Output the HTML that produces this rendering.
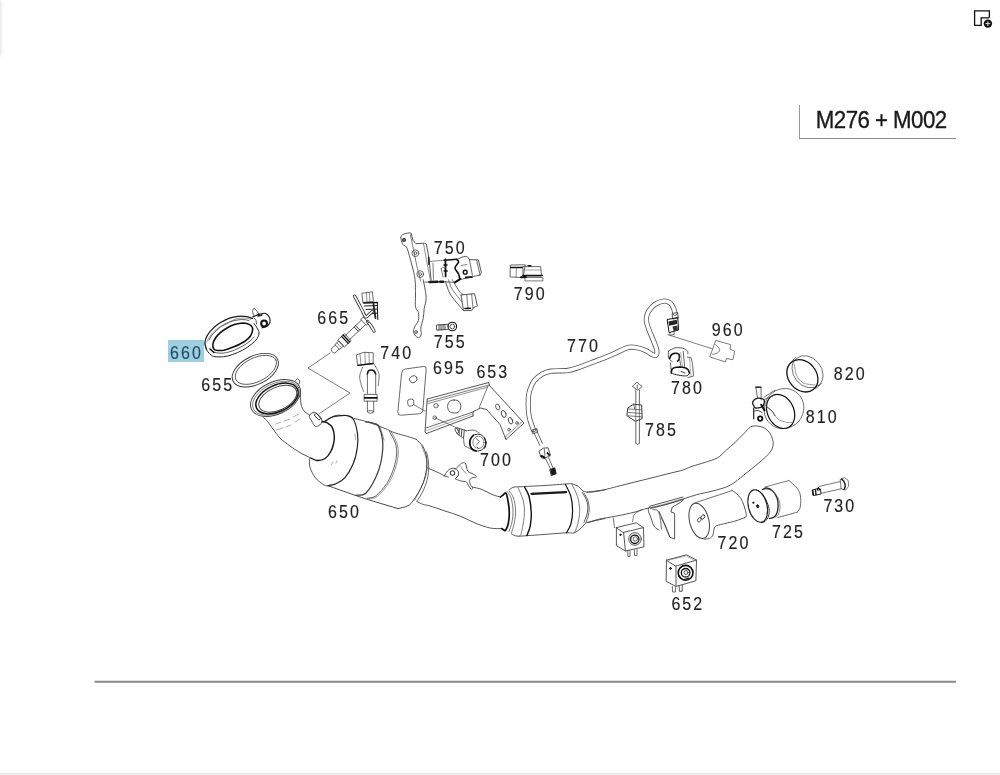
<!DOCTYPE html>
<html><head><meta charset="utf-8"><style>
html,body{margin:0;padding:0;background:#fff;width:1000px;height:775px;overflow:hidden}
#sh{position:absolute;left:-3px;top:0;width:3px;height:56px;box-shadow:1px 0 3px rgba(0,0,0,0.12)}
#bot{position:absolute;left:0;top:773px;width:1000px;height:2px;background:#ececec}
svg{position:absolute;left:0;top:0}
.t{font-family:"Liberation Sans",sans-serif;font-size:17px;letter-spacing:2px;fill:#333}
</style></head><body>
<div id="sh"></div>
<div id="bot"></div>
<svg width="1000" height="775" viewBox="0 0 1000 775">
<!-- top-right icon -->
<g fill="none" stroke="#111" stroke-width="1.3">
<path d="M974.6 10.9H989.4V16.9L988.5 17.9H981.2V25.3H974.6Z"/>
</g>
<circle cx="987.9" cy="23.6" r="4.2" fill="#111"/>
<path d="M987.9 21.2V26M985.5 23.6H990.3" stroke="#cfe8f0" stroke-width="1"/>
<!-- title box -->
<path d="M799.5 105V138.5" fill="none" stroke="#999" stroke-width="1"/><path d="M799 138.5H956" fill="none" stroke="#8a8a8a" stroke-width="1.1"/>
<defs><filter id="nf"><feOffset dx="0" dy="0"/></filter></defs><g filter="url(#nf)"><text transform="translate(815.8 127.6) scale(0.91 1)" font-family="'Liberation Sans', sans-serif" font-size="24.5" letter-spacing="-0.6" fill="#1a1a1a" stroke="#1a1a1a" stroke-width="0.35">M276 + M002</text></g>
<!-- bottom rule -->
<path d="M94.5 681.8H956" stroke="#8a8a8a" stroke-width="2"/>

<!-- highlight 660 -->
<rect x="168" y="340" width="36" height="22" fill="#9dcfe1"/>

<g id="labels" style="font-family:&quot;Liberation Sans&quot;,sans-serif" font-size="17.8" letter-spacing="2.3" fill="#222" stroke="#222" stroke-width="0.15" filter="url(#nf)">
<text transform="translate(170.00 358.60) scale(0.9 1)" fill="#1d4d5e" stroke="#1d4d5e">660</text>
<text transform="translate(201.20 390.50) scale(0.9 1)">655</text>
<text transform="translate(317.20 324.30) scale(0.9 1)">665</text>
<text transform="translate(380.20 358.70) scale(0.9 1)">740</text>
<text transform="translate(433.80 253.50) scale(0.9 1)">750</text>
<text transform="translate(433.80 347.70) scale(0.9 1)">755</text>
<text transform="translate(433.00 374.10) scale(0.9 1)">695</text>
<text transform="translate(476.40 377.50) scale(0.9 1)">653</text>
<text transform="translate(480.00 465.90) scale(0.9 1)">700</text>
<text transform="translate(513.80 299.70) scale(0.9 1)">790</text>
<text transform="translate(567.00 351.50) scale(0.9 1)">770</text>
<text transform="translate(328.00 518.30) scale(0.9 1)">650</text>
<text transform="translate(711.80 335.70) scale(0.9 1)">960</text>
<text transform="translate(671.00 394.10) scale(0.9 1)">780</text>
<text transform="translate(645.00 435.90) scale(0.9 1)">785</text>
<text transform="translate(833.80 379.90) scale(0.9 1)">820</text>
<text transform="translate(805.80 423.10) scale(0.9 1)">810</text>
<text transform="translate(823.40 511.90) scale(0.9 1)">730</text>
<text transform="translate(772.00 538.30) scale(0.9 1)">725</text>
<text transform="translate(717.60 549.10) scale(0.9 1)">720</text>
<text transform="translate(671.40 610.30) scale(0.9 1)">652</text>
</g>


<g id="draw" fill="none" stroke="#444" stroke-width="0.9" stroke-linejoin="round" stroke-linecap="round">
<path d="M206.3 348.8C206.1 347.8 204.8 345.2 204.9 343.0C205.0 340.8 205.8 338.2 207.1 335.8C208.4 333.4 210.6 330.8 212.8 328.6C215.0 326.4 217.3 324.6 220.1 322.8C222.9 321.1 226.5 319.2 229.5 318.1C232.5 317.0 235.2 316.6 238.1 316.3C241.0 316.1 244.4 316.2 246.8 316.6C249.2 317.0 251.6 318.2 252.6 318.5" stroke-width="1.3" stroke="#1a1a1a"/>
<path d="M254.0 323.5C254.5 324.2 256.0 326.2 256.9 327.8C257.8 329.4 259.1 331.1 259.1 332.9C259.1 334.7 258.2 336.8 256.9 338.7C255.6 340.6 253.5 342.6 251.1 344.5C248.7 346.4 245.6 348.5 242.5 350.2C239.4 351.9 235.4 353.5 232.3 354.6C229.2 355.7 226.6 356.4 223.7 356.7C220.8 357.0 217.1 356.9 215.0 356.7C212.9 356.5 212.6 356.1 211.4 355.3C210.2 354.5 208.7 352.8 207.8 351.7C207.0 350.6 206.6 349.3 206.3 348.8" stroke-width="1.0" stroke="#222"/>
<path d="M212.8 344.5C213.0 342.6 214.3 339.9 215.5 338.0C216.7 336.1 218.2 334.6 220.1 332.9C222.0 331.2 224.6 329.4 227.0 328.0C229.4 326.6 232.2 325.4 234.5 324.6C236.8 323.8 238.8 323.4 240.8 323.2C242.9 323.0 245.0 323.0 246.8 323.5C248.6 324.0 250.5 324.9 251.5 326.0C252.5 327.1 252.8 328.3 252.6 330.0C252.4 331.7 251.7 334.2 250.5 336.0C249.3 337.8 247.2 339.5 245.4 340.8C243.7 342.1 241.8 343.0 240.0 344.0C238.2 345.0 236.5 345.8 234.5 346.6C232.5 347.4 229.8 348.4 228.0 349.0C226.2 349.6 225.3 349.9 223.7 350.2C222.1 350.4 220.1 350.6 218.5 350.5C216.9 350.4 215.2 350.5 214.3 349.5C213.4 348.5 212.6 346.4 212.8 344.5Z" stroke-width="1.6" stroke="#111"/>
<path d="M209.2 340.1C209.7 339.2 210.8 336.6 212.0 335.0C213.2 333.4 215.0 332.1 216.5 330.7C218.0 329.3 219.2 327.7 221.0 326.5C222.8 325.3 225.5 324.4 227.3 323.5C229.1 322.6 230.2 321.8 232.0 321.2C233.8 320.6 236.1 320.2 238.1 319.9C240.1 319.6 242.2 319.5 244.0 319.6C245.8 319.7 248.2 320.4 249.0 320.6" stroke-width="0.8" stroke="#333"/>
<path d="M207.0 342.0C207.5 341.0 208.8 337.8 210.0 336.0C211.2 334.2 212.5 332.8 214.5 331.0C216.5 329.2 219.4 327.1 222.0 325.5C224.6 323.9 227.3 322.7 230.0 321.5C232.7 320.3 235.3 319.1 238.0 318.5C240.7 317.9 243.8 318.0 246.0 318.2C248.2 318.4 250.2 319.3 251.0 319.5" stroke-width="0.6" stroke="#555"/>
<path d="M212.8 351.7C213.7 351.9 216.2 352.8 218.0 353.0C219.8 353.2 221.9 353.3 223.7 353.1C225.5 352.9 227.2 352.5 229.0 352.0C230.8 351.5 232.7 350.9 234.5 350.2C236.3 349.4 238.2 348.4 240.0 347.5C241.8 346.6 243.7 345.6 245.4 344.5C247.1 343.4 248.6 342.2 250.0 341.0C251.4 339.8 253.3 337.8 254.0 337.2" stroke-width="0.8" stroke="#333"/>
<path d="M210.0 349.0L214.0 352.5" stroke-width="1.6" stroke="#111"/>
<path d="M252.6 317.0C253.8 316.5 257.6 314.7 259.8 314.1C262.0 313.5 264.0 312.9 265.6 313.4C267.2 313.9 268.5 315.6 269.2 317.0C269.9 318.4 270.3 320.5 269.9 322.1C269.5 323.7 268.3 325.4 267.0 326.4C265.7 327.3 262.8 327.6 262.0 327.8" stroke-width="1.1" stroke="#1a1a1a"/>
<path d="M254.0 318.0C254.3 318.4 255.6 319.5 256.0 320.5C256.4 321.5 256.4 323.4 256.5 324.0" stroke-width="0.9"/>
<circle cx="264.1" cy="323.5" r="2.9" stroke-width="2.0" stroke="#111"/>
<path d="M254.0 316.3C253.8 315.5 252.6 312.8 252.6 311.5C252.6 310.2 253.3 308.4 254.0 308.3C254.7 308.2 256.0 310.2 256.9 311.2C257.8 312.2 258.7 313.6 259.1 314.1" stroke-width="0.9"/>
<path d="M258.0 316.0 L262.0 315.0" stroke-width="1.4" stroke="#222"/>
<ellipse cx="255.3" cy="370.2" rx="24.8" ry="14.2" transform="rotate(-26.4 255.3 370.2)" stroke-width="0.9" stroke="#333"/>
<ellipse cx="255.9" cy="369.8" rx="22.3" ry="11.9" transform="rotate(-26.4 255.9 369.8)" stroke-width="0.8" stroke="#444"/>
<ellipse cx="275.5" cy="398" rx="26.6" ry="16.1" transform="rotate(-25.4 275.5 398)" stroke-width="1.0"/>
<ellipse cx="276" cy="398.2" rx="25" ry="14.6" transform="rotate(-25.4 276 398.2)" stroke-width="0.6" stroke="#444"/>
<ellipse cx="277" cy="398.5" rx="22.6" ry="13.2" transform="rotate(-25.4 277 398.5)" stroke-width="1.5" stroke="#111"/>
<ellipse cx="277.8" cy="398.7" rx="20.3" ry="11.4" transform="rotate(-25.4 277.8 398.7)" stroke-width="1.0"/>
<path d="M295.6 380.5L297.5 378.5L300 381L299 384" stroke-width="0.9"/>
<path d="M263.0 417.0C263.8 417.8 266.3 420.0 268.0 422.0C269.7 424.0 271.0 426.3 273.0 429.0C275.0 431.7 277.2 435.2 280.0 438.0C282.8 440.8 286.7 443.6 290.0 446.0C293.3 448.4 296.5 450.6 300.0 452.6C303.5 454.6 309.3 457.3 311.2 458.2"/>
<path d="M300.5 392.0C300.6 394.0 300.4 400.8 301.0 404.0C301.6 407.2 302.6 409.2 304.0 411.0C305.4 412.8 308.6 414.3 309.5 415.0"/>
<path d="M276 424L281 422M284 421L290 419M293 417L299 414M276 430L283 428M286 427L291 425M295 422L300 419" stroke-width="0.5" stroke="#666"/>
<path d="M313.3 412.4C314.2 412.2 315.2 412.5 316.1 413.0C317.1 413.5 318.1 414.5 319.0 415.5C319.9 416.5 321.3 417.7 321.7 419.0C322.1 420.3 322.0 422.0 321.4 423.2C320.8 424.4 319.3 425.5 318.2 426.0C317.1 426.5 315.9 426.6 315.0 426.0C314.1 425.4 313.2 423.7 312.5 422.5C311.8 421.3 311.1 420.1 310.5 419.0C309.9 417.9 309.1 417.0 309.1 416.2C309.1 415.4 309.8 414.7 310.5 414.1C311.2 413.5 312.4 412.6 313.3 412.4Z" stroke-width="0.9"/>
<path d="M314.6 415.7Q313.8 414.8 314.8 414.2L315.5 413.8Q316.5 413.2 317.3 414.1L320.2 417.7Q321.0 418.6 320.2 419.4L320.0 419.6Q319.2 420.4 318.4 419.5Z" stroke-width="0.9" stroke="#222"/>
<path d="M322.4 422.2 L328.0 419.5 L335.0 415.5 L340.0 415.0" stroke-width="0.8"/>
<path d="M322.5 421.5C323.3 421.8 325.9 422.0 327.5 423.0C329.1 424.0 331.1 425.2 332.2 427.4C333.3 429.6 334.1 433.2 334.3 436.0C334.5 438.8 334.1 441.3 333.5 444.0C332.9 446.7 331.9 449.6 330.5 452.0C329.1 454.4 327.4 457.1 325.2 458.5C322.9 459.9 319.3 460.6 317.0 460.5C314.7 460.4 312.2 458.6 311.2 458.2" stroke-width="1.4" stroke="#111"/>
<path d="M309.8 458.2C309.8 459.6 308.9 463.3 309.8 466.6C310.7 469.9 313.1 474.8 315.4 477.8C317.7 480.8 321.5 483.4 323.8 484.8C326.1 486.2 328.5 486.0 329.4 486.2"/>
<path d="M329.4 486.2C333.4 487.6 346.4 492.3 353.2 494.6C360.0 496.9 362.5 497.9 370.0 500.2C377.5 502.5 393.3 507.2 398.0 508.6" stroke-width="1.0"/>
<path d="M325.5 421.0C326.4 420.4 329.2 418.3 331.0 417.5C332.8 416.7 333.9 416.5 336.4 416.2C338.9 415.9 343.4 415.0 346.2 415.5C349.0 416.0 351.3 416.1 353.2 419.0C355.1 421.9 356.7 428.3 357.4 433.0C358.1 437.7 358.1 441.9 357.4 447.0C356.7 452.1 355.3 458.7 353.2 463.8C351.1 468.9 347.8 474.4 344.8 477.8C341.8 481.2 337.8 482.8 335.0 484.1C332.2 485.4 329.2 485.3 328.0 485.5" stroke-width="1.2" stroke="#222"/>
<path d="M353.2 418.3C355.5 418.9 362.1 420.2 367.2 421.8C372.3 423.4 379.3 426.2 384.0 428.1C388.7 430.0 391.2 431.6 395.2 433.0C399.2 434.4 404.3 435.4 407.8 436.5C411.3 437.6 414.8 438.8 416.2 439.3" stroke-width="0.9"/>
<path d="M365.8 421.8C367.2 422.1 371.9 422.8 374.0 423.5C376.1 424.2 377.0 423.2 378.4 426.0C379.8 428.8 382.1 434.2 382.6 440.0C383.1 445.8 382.4 454.7 381.2 461.0C380.0 467.3 378.2 472.4 375.6 477.8C373.0 483.2 369.1 490.3 365.8 493.2C362.5 496.1 357.6 494.9 356.0 495.3" stroke-width="1.3"/>
<path d="M368.5 421.8C369.8 422.2 374.1 423.1 376.0 424.0C377.9 424.9 378.7 424.3 380.0 427.0C381.3 429.7 383.3 437.8 384.0 440.0" stroke-width="0.6"/>
<path d="M389.6 431.6C390.5 433.5 394.0 439.1 395.2 442.8C396.4 446.5 396.8 449.8 396.6 454.0C396.4 458.2 395.4 463.1 393.8 468.0C392.2 472.9 389.8 478.7 386.8 483.4C383.8 488.1 378.9 493.6 375.6 496.0C372.3 498.4 368.6 497.8 367.2 498.1" stroke-width="0.8"/>
<path d="M391.2 431.8C392.1 433.7 395.6 439.3 396.8 443.0C398.0 446.7 398.4 449.8 398.2 454.0C398.0 458.2 397.0 463.1 395.4 468.0C393.8 472.9 391.4 478.9 388.4 483.6C385.4 488.3 380.4 493.9 377.2 496.4C374.0 498.9 370.4 498.2 369.0 498.6" stroke-width="0.6"/>
<path d="M416.2 439.3C417.4 440.6 421.4 443.9 423.2 447.0C424.9 450.1 426.2 454.0 426.7 458.2C427.2 462.4 426.8 467.5 426.0 472.2C425.2 476.9 423.9 481.5 421.8 486.2C419.7 490.9 415.7 496.9 413.4 500.2C411.1 503.5 410.4 504.4 407.8 505.8C405.2 507.2 399.6 508.1 398.0 508.6" stroke-width="1.0"/>
<path d="M421.8 445.6C422.6 448.2 426.0 456.1 426.7 461.0C427.4 465.9 427.1 470.3 426.0 475.0C424.9 479.7 422.3 484.8 420.4 489.0C418.5 493.2 415.7 498.3 414.8 500.2" stroke-width="0.6"/>
<path d="M426.5 452.0C426.8 453.7 428.2 458.0 428.5 462.0C428.8 466.0 428.8 471.3 428.0 476.0C427.2 480.7 425.3 485.8 423.5 490.0C421.7 494.2 418.1 499.2 417.0 501.0" stroke-width="0.8"/>
<path d="M355 434L355.5 440M331 465L333 462M336 463L337 461" stroke-width="0.6" stroke="#777"/>
<path d="M427.5 468.0C429.1 468.7 434.1 470.7 437.0 472.0C439.9 473.3 443.1 475.2 445.0 476.0C446.9 476.8 447.9 476.8 448.5 477.0" stroke-width="0.9"/>
<path d="M472.0 487.0C473.7 487.4 478.7 488.2 482.0 489.5C485.3 490.8 488.9 493.2 492.0 494.5C495.1 495.8 499.1 496.6 500.5 497.0" stroke-width="0.9"/>
<path d="M417.0 501.6C418.0 502.1 421.0 503.7 423.2 504.4C425.4 505.1 426.4 504.9 430.0 506.0C433.6 507.1 440.0 509.3 445.0 511.0C450.0 512.7 455.0 514.0 460.0 516.0C465.0 518.0 470.0 521.0 475.0 523.0C480.0 525.0 485.6 527.1 490.0 528.0C494.4 528.9 499.7 528.5 501.6 528.6" stroke-width="0.9"/>
<path d="M444.0 476.5C444.6 475.6 446.3 472.3 447.5 471.0C448.7 469.7 449.8 468.9 451.0 468.5C452.2 468.1 453.8 468.1 455.0 468.5C456.2 468.9 457.4 469.9 458.0 471.0C458.6 472.1 458.9 473.8 458.5 475.0C458.1 476.2 456.0 477.9 455.5 478.5" stroke-width="0.9"/>
<circle cx="452.5" cy="473" r="2.2" stroke-width="1.1"/>
<path d="M455.0 469.5C455.7 468.8 457.8 466.6 459.0 465.5C460.2 464.4 461.4 463.1 462.5 462.8C463.6 462.5 464.8 462.8 465.5 463.5C466.2 464.2 466.1 465.7 466.5 467.0C466.9 468.3 467.1 470.4 468.0 471.5C468.9 472.6 470.8 472.8 472.0 473.5C473.2 474.2 474.8 474.9 475.5 475.5C476.2 476.1 476.6 476.8 476.0 477.2C475.4 477.6 473.1 477.2 472.0 477.8C470.9 478.4 469.8 479.3 469.5 480.5C469.2 481.7 469.9 483.8 470.5 485.0C471.1 486.2 472.9 487.3 473.0 488.0C473.1 488.7 471.8 489.5 471.0 489.0C470.2 488.5 468.8 486.2 468.0 485.0C467.2 483.8 467.7 482.7 466.5 482.0C465.3 481.3 462.8 481.5 461.0 481.0C459.2 480.5 456.4 479.3 455.5 479.0" stroke-width="0.9"/>
<path d="M460.5 466.0C460.9 466.7 462.0 468.7 463.0 470.0C464.0 471.3 465.9 473.3 466.5 474.0" stroke-width="0.6"/>
<path d="M500.5 497.0C500.9 496.7 501.8 496.0 502.7 495.4C503.6 494.8 505.1 492.1 506.0 493.2C506.9 494.3 507.6 498.7 508.2 502.0C508.8 505.3 509.3 509.3 509.3 513.0C509.3 516.7 508.8 521.2 508.2 524.0C507.6 526.8 506.6 528.4 506.0 529.5C505.4 530.6 505.6 530.8 504.9 530.6C504.2 530.5 502.2 528.9 501.6 528.6" stroke-width="1.7" stroke="#111"/>
<path d="M507.1 491.5C507.8 492.6 510.0 494.9 511.0 498.0C512.0 501.1 512.8 506.0 513.0 510.0C513.2 514.0 512.7 518.4 512.0 522.0C511.3 525.6 509.5 529.9 509.0 531.5" stroke-width="0.7"/>
<path d="M509.0 490.8C509.8 492.0 512.4 494.8 513.5 498.0C514.6 501.2 515.3 506.0 515.5 510.0C515.7 514.0 515.2 518.2 514.5 522.0C513.8 525.8 512.0 531.0 511.5 532.8" stroke-width="0.7"/>
<path d="M509.3 489.9C510.0 489.4 511.3 487.8 513.7 487.2C516.1 486.6 518.4 486.9 523.6 486.6C528.8 486.3 537.9 485.9 545.0 485.5C552.1 485.1 562.0 484.2 566.5 483.9C571.0 483.6 570.0 483.4 572.0 483.9C574.0 484.3 576.8 485.4 578.6 486.6C580.4 487.8 581.4 490.1 583.0 491.0C584.6 491.9 586.3 492.1 588.5 492.1C590.7 492.1 593.2 491.4 596.0 491.0C598.8 490.6 603.5 490.1 605.0 489.9" stroke-width="0.9"/>
<path d="M511.5 533.9C512.4 534.3 514.2 535.8 517.0 536.1C519.8 536.4 523.3 535.9 528.0 535.6C532.7 535.3 538.6 534.9 545.0 534.4C551.4 533.9 561.6 533.1 566.5 532.8C571.4 532.5 571.8 533.5 574.2 532.8C576.6 532.1 578.8 530.1 580.8 528.4C582.8 526.7 585.0 523.4 586.3 522.4C587.6 521.4 586.9 522.7 588.5 522.4C590.1 522.1 593.2 521.1 596.0 520.5C598.8 519.9 603.5 518.8 605.0 518.5" stroke-width="0.9"/>
<path d="M518.1 487.7C519.0 490.1 522.6 497.2 523.6 502.0C524.6 506.8 524.6 511.2 524.2 516.3C523.8 521.4 522.2 529.5 521.4 532.8C520.6 536.1 519.6 535.5 519.2 536.1" stroke-width="0.7"/>
<path d="M524.7 487.2C525.4 488.8 528.0 492.2 529.1 496.5C530.2 500.8 531.1 508.1 531.3 513.0C531.5 518.0 530.9 522.4 530.2 526.2C529.5 530.0 527.5 534.0 526.9 535.6" stroke-width="1.4" stroke="#111"/>
<path d="M565.4 484.4C566.3 486.4 569.7 492.1 570.9 496.5C572.1 500.9 572.6 506.2 572.6 510.8C572.6 515.4 571.9 520.3 570.9 524.0C569.9 527.7 567.2 531.3 566.5 532.8" stroke-width="1.2" stroke="#111"/>
<path d="M572.0 484.4C572.9 486.4 576.2 492.1 577.5 496.5C578.8 500.9 579.7 506.0 579.7 510.8C579.7 515.6 578.4 521.4 577.5 525.1C576.6 528.8 574.8 531.5 574.2 532.8" stroke-width="0.7"/>
<path d="M582.1 492.3C582.8 493.4 585.0 496.6 586.0 499.0C587.0 501.4 587.8 504.1 587.9 506.8C588.0 509.5 587.4 512.4 586.8 515.0C586.1 517.6 584.5 521.1 584.0 522.3" stroke-width="0.9"/>
<path d="M584.0 493.2C584.6 494.3 586.9 497.4 587.8 500.0C588.7 502.6 589.1 506.0 589.2 508.7C589.3 511.4 588.7 513.7 588.2 516.0C587.7 518.3 586.4 521.2 586.0 522.3" stroke-width="0.8"/>
<path d="M531.5 493.8L566 492.2" stroke-width="2.2" stroke="#1a1a1a"/>
<path d="M587.0 492.2C589.0 492.0 593.0 492.2 599.0 491.0C605.0 489.8 615.0 487.0 623.0 485.0C631.0 483.0 639.0 481.0 647.0 479.0C655.0 477.0 665.0 474.5 671.0 473.0C677.0 471.5 679.7 471.1 683.0 470.0C686.3 468.9 687.3 468.0 691.0 466.7C694.7 465.4 700.9 463.8 705.3 462.3C709.7 460.8 713.9 459.9 717.4 457.9C720.9 455.9 723.3 452.8 726.2 450.2C729.1 447.6 732.1 445.2 735.0 442.5C737.9 439.8 741.2 436.3 743.8 433.7C746.4 431.1 748.2 428.4 750.4 427.1C752.6 425.8 754.6 425.8 757.0 426.0C759.4 426.2 762.5 426.9 764.7 428.2C766.9 429.5 768.8 431.5 770.2 433.7C771.6 435.9 772.6 439.0 773.0 441.4C773.4 443.8 773.2 445.8 772.4 448.0C771.6 450.2 770.6 451.9 768.0 454.6C765.4 457.4 760.7 461.4 757.0 464.5C753.3 467.6 749.7 470.4 746.0 473.3C742.3 476.2 738.3 479.8 735.0 482.1C731.7 484.4 729.9 485.5 726.2 487.0C722.5 488.5 718.0 489.6 713.0 490.9C708.0 492.2 701.5 493.4 696.5 494.8C691.5 496.2 688.2 497.3 683.0 499.0C677.8 500.7 671.0 503.2 665.0 504.8C659.0 506.4 652.0 507.2 647.0 508.4C642.0 509.6 640.2 510.7 635.0 512.0C629.8 513.3 621.8 515.0 615.8 516.2C609.8 517.4 603.8 518.1 599.0 519.2C594.2 520.3 589.0 522.2 587.0 522.8" stroke-width="0.9"/>
<path d="M613.4 518.0C613.5 518.7 613.6 520.4 613.8 522.0C614.0 523.6 614.5 526.7 614.6 527.6" stroke-width="0.8"/>
<path d="M632.6 521.6C632.8 520.5 633.1 516.7 634.0 515.0C634.9 513.3 636.6 512.4 638.0 511.5C639.4 510.6 641.5 509.9 642.2 509.6" stroke-width="0.7"/>
<path d="M616.4 527.6 L636.2 522.8 L643.4 527.6 L623.6 532.4Z" stroke-width="0.9"/>
<path d="M616.4 527.6 L616.4 545.6 L625.4 551.0 L644.0 546.8 L643.4 527.6" stroke-width="0.9"/>
<path d="M623.6 532.4L625.4 551" stroke-width="0.9"/>
<circle cx="635" cy="539" r="6.3" stroke-width="0.9"/>
<circle cx="634.8" cy="539.3" r="4.2" stroke-width="1.3" stroke="#111"/>
<circle cx="635.3" cy="539" r="2.2" stroke-width="0.8"/>
<path d="M627.8 551V556.4H630V551M634.5 550V555.5H637V549.5" stroke-width="0.8"/>
<circle cx="620.4" cy="534.8" r="0.7" stroke-width="1" stroke="#222" fill="#222"/>
<path d="M650.6 506.0 L683.0 497.0" stroke-width="0.9"/>
<path d="M650.6 508.6 L683.5 499.6" stroke-width="0.8"/>
<path d="M652.0 507.5 L682.0 499.0" stroke-width="0.5" stroke="#666"/>
<path d="M650.6 506.0C650.2 506.6 648.1 507.6 648.2 509.6C648.3 511.6 650.0 515.2 651.0 518.0C652.0 520.8 652.9 524.4 654.2 526.4C655.5 528.4 658.2 529.4 659.0 530.0" stroke-width="0.9"/>
<path d="M653.0 509.6C653.8 509.8 656.6 509.4 657.8 510.8C659.0 512.2 659.6 515.0 660.2 518.0C660.8 521.0 661.2 527.0 661.4 528.8" stroke-width="0.8"/>
<path d="M659.0 511.4 L666.0 527.0 L669.8 537.2 L674.6 539.0 L674.6 513.2 L671.0 512.0 L672.2 507.2 L680.6 502.4 L683.5 499.6" stroke-width="0.9"/>
<path d="M661.4 518.0 L669.8 536.6" stroke-width="0.7"/>
<ellipse cx="699.2" cy="520.8" rx="9.6" ry="18" transform="rotate(-14 699.2 520.8)" stroke-width="1.0"/>
<path d="M694.5 503.0C697.4 502.0 706.0 499.2 712.0 497.2C718.0 495.2 727.1 492.3 730.4 491.2C733.7 490.1 731.7 490.5 732.0 490.4" stroke-width="0.8"/>
<path d="M732.0 490.4C732.7 490.9 734.5 491.9 736.0 493.2C737.5 494.5 739.5 496.3 740.8 498.4C742.1 500.5 743.1 502.8 744.0 505.6C744.9 508.4 746.3 513.2 746.4 515.2C746.5 517.2 745.1 517.2 744.8 517.6" stroke-width="0.9"/>
<path d="M744.8 517.6C743.3 518.1 739.3 519.8 736.0 520.8C732.7 521.8 728.0 522.8 724.8 523.6C721.6 524.4 718.5 524.9 716.8 525.6C715.1 526.3 715.1 526.4 714.4 528.0C713.7 529.6 713.6 533.5 712.8 535.2C712.0 536.9 711.1 537.7 709.6 538.4C708.1 539.1 704.9 539.1 704.0 539.2" stroke-width="0.9"/>
<ellipse cx="699.4" cy="519.8" rx="2.4" ry="1.7" transform="rotate(-55 699.4 519.8)" stroke-width="0.9"/>
<ellipse cx="702.8" cy="517" rx="2.4" ry="1.7" transform="rotate(-55 702.8 517)" stroke-width="0.9"/>
<path d="M756.0 489.8C756.9 490.3 759.8 491.3 761.5 493.0C763.2 494.7 764.8 497.4 766.0 500.0C767.2 502.6 768.6 505.8 769.0 508.5C769.4 511.2 769.2 513.8 768.5 516.0C767.8 518.2 766.2 520.4 765.0 521.5C763.8 522.6 762.1 522.3 761.5 522.5" stroke-width="1.0" stroke="#333"/>
<ellipse cx="757.7" cy="506" rx="9.3" ry="16.6" transform="rotate(-14 757.7 506)" stroke-width="1.1" stroke="#222"/>
<circle cx="753.3" cy="502.7" r="0.7" stroke-width="0.8" stroke="#222" fill="#222"/>
<ellipse cx="757.6" cy="506.3" rx="1.1" ry="1.6" transform="rotate(-20 757.6 506.3)" stroke-width="0.8" stroke="#222" fill="#222"/>
<path d="M762.4 489.7C763.1 489.4 764.9 487.8 766.6 488.0C768.4 488.2 771.1 489.4 772.9 491.1C774.6 492.8 776.2 495.5 777.1 498.1C778.0 500.7 778.2 503.8 778.1 506.5C778.0 509.2 777.3 512.3 776.4 514.2C775.5 516.1 774.1 517.0 772.9 517.7C771.7 518.4 770.0 518.3 769.4 518.4" stroke-width="1.3" stroke="#222"/>
<path d="M764.5 489.2C765.3 489.2 767.8 488.8 769.5 489.5C771.2 490.2 773.4 491.8 775.0 493.5C776.6 495.2 778.2 497.8 779.0 500.0C779.8 502.2 780.1 504.7 780.0 507.0C779.9 509.3 779.3 512.2 778.5 514.0C777.7 515.8 775.6 516.9 775.0 517.5" stroke-width="0.7" stroke="#555"/>
<path d="M765.2 486.9C767.2 486.4 773.0 484.8 777.0 483.7C781.0 482.6 787.0 481.1 789.0 480.6" stroke-width="0.8" stroke="#555"/>
<path d="M789.0 480.6C790.2 481.7 794.1 484.6 796.0 486.9C797.9 489.2 799.5 491.3 800.2 494.6C800.9 497.9 800.9 503.6 800.4 506.5C799.9 509.4 797.9 511.2 797.4 512.1" stroke-width="0.8"/>
<path d="M797.4 512.1C795.7 512.6 790.3 514.1 787.0 515.0C783.7 515.9 779.3 517.1 777.8 517.5" stroke-width="0.8" stroke="#444"/>
<path d="M840.5 479.5 L844.5 477.5 L848.2 480.5 L848.6 486.5 L845.5 490.0 L841.5 489.0Z" stroke-width="0.7" stroke="#444"/>
<path d="M841.5 479.0C842.0 479.5 843.6 480.8 844.2 482.0C844.8 483.2 845.3 484.8 845.3 486.0C845.3 487.2 844.2 488.9 844.0 489.5" stroke-width="1.5" stroke="#222"/>
<path d="M819.0 486.5 L840.5 481.5" stroke-width="0.8" stroke="#555"/>
<path d="M821.5 493.2 L841.5 488.7" stroke-width="0.8" stroke="#555"/>
<path d="M812.5 490.0 L818.0 488.5 L820.5 489.0 L821.0 494.0 L813.5 495.5Z" stroke-width="1.0" stroke="#222"/>
<path d="M812.8 490.5L813.5 495M815.5 489.8L816 494.8" stroke-width="1.3" stroke="#111"/>
<path d="M818.5 487.5 L820.0 490.0 L817.5 490.0Z" stroke-width="1.0" stroke="#111"/>
<path d="M666.5 560.1 L686.6 554.8 L696.5 560.1 L676.0 566.0Z" stroke-width="0.9"/>
<path d="M668.5 560.2 L686.6 555.9 L694.0 560.0" stroke-width="0.5" stroke="#666"/>
<path d="M666.5 560.1 L666.1 581.4 L676.0 586.4 L676.0 566.0" stroke-width="0.9"/>
<path d="M696.5 560.1 L695.9 580.8 L676.0 586.4" stroke-width="0.9"/>
<circle cx="685.6" cy="572.8" r="7.4" stroke-width="1.6" stroke="#111"/>
<circle cx="685.6" cy="572.8" r="4.3" stroke-width="1.3" stroke="#111"/>
<circle cx="686" cy="572.5" r="2" stroke-width="0.9"/>
<path d="M679.0 576.0C679.7 576.6 681.3 579.2 683.0 579.5C684.7 579.8 688.0 578.2 689.0 578.0" stroke-width="1.2" stroke="#111"/>
<circle cx="670.5" cy="568.4" r="0.9" stroke-width="1" stroke="#222" fill="#222"/>
<path d="M672.3 586.4 L672.6 592.0 L675.4 592.0 L675.4 587.5" stroke-width="0.8"/>
<path d="M679.1 585.8 L679.4 591.3 L682.2 591.3 L682.2 585.0" stroke-width="0.9"/>
<ellipse cx="807.6" cy="371.8" rx="17.5" ry="14" transform="rotate(50 807.6 371.8)" stroke-width="0.7"/>
<ellipse cx="802.4" cy="375.8" rx="17.5" ry="14" transform="rotate(50 802.4 375.8)" stroke-width="1.3" stroke="#111"/>
<path d="M790.5 362.5L796 357.2M815.8 388.6L821.6 383.4" stroke-width="0.7"/>
<path d="M794.3 364.3C794.7 366.1 795.0 372.1 796.5 375.2C798.0 378.3 800.0 381.2 803.1 382.9C806.2 384.5 813.2 384.7 815.2 385.1" stroke-width="0.6" stroke="#555"/>
<ellipse cx="784" cy="408.6" rx="19.5" ry="20.5" transform="rotate(40 784 408.6)" stroke-width="0.7"/>
<ellipse cx="780.6" cy="411.4" rx="13.2" ry="17.8" transform="rotate(-25 780.6 411.4)" stroke-width="1.2" stroke="#111"/>
<path d="M765.8 405.9C766.9 406.8 770.4 409.2 772.4 411.4C774.4 413.6 775.5 417.3 777.9 419.1C780.3 420.9 784.2 421.8 786.7 422.4C789.2 422.9 792.1 422.4 793.2 422.4" stroke-width="0.6" stroke="#555"/>
<path d="M757.5 397.7 L755.8 387.1 L761.0 387.1 L761.2 399.9" stroke-width="0.8"/>
<path d="M755.8 387.3 L761.0 387.3" stroke-width="1.4" stroke="#333"/>
<path d="M752.6 402.0C753.2 400.7 755.6 398.6 757.5 398.2C759.4 397.8 763.0 398.7 764.0 399.9C765.0 401.1 763.9 404.1 763.4 405.3C762.9 406.6 762.0 406.9 760.7 407.4C759.4 407.8 757.0 408.3 755.8 408.0C754.6 407.7 754.2 406.8 753.7 405.8C753.2 404.8 752.0 403.3 752.6 402.0Z" stroke-width="1.3" stroke="#1a1a1a"/>
<path d="M761.2 404.7 L764.5 410.2" stroke-width="2.0" stroke="#111"/>
<path d="M753.7 408.0 L753.7 418.8" stroke-width="1.2" stroke="#222"/>
<path d="M754.5 411.0C755.1 410.9 756.8 410.2 758.0 410.5C759.2 410.8 761.3 412.2 762.0 412.5" stroke-width="0.9" stroke="#333"/>
<circle cx="760.2" cy="418.6" r="2.2" stroke-width="1.8" stroke="#111"/>
<path d="M764.0 397.2 L775.0 390.1" stroke-width="0.8"/>
<path d="M764.5 399.5 L775.0 395.0" stroke-width="0.8"/>
<path d="M765.6 405.8 L772.0 411.0 L775.0 415.6" stroke-width="0.8"/>
<path d="M533.3 429.5C532.8 427.9 530.8 423.0 530.0 420.0C529.2 417.0 528.8 415.4 528.5 411.6C528.2 407.8 528.1 401.0 528.4 397.2C528.7 393.4 529.2 391.6 530.2 388.8C531.2 386.0 532.4 383.1 534.4 380.6C536.4 378.1 539.7 375.6 542.4 374.0C545.1 372.4 546.5 371.8 550.8 371.2C555.1 370.6 563.1 371.1 568.0 370.4C572.9 369.7 576.0 368.3 580.0 367.0C584.0 365.7 588.7 363.6 592.0 362.4C595.3 361.1 596.2 361.0 600.0 359.5C603.8 358.0 610.4 355.4 614.9 353.4C619.4 351.4 623.6 348.7 627.1 347.7C630.6 346.7 632.9 347.0 636.0 347.5C639.1 348.0 643.3 349.5 646.0 350.7C648.7 351.9 650.3 353.8 652.0 354.5C653.7 355.2 655.2 355.9 656.0 355.2C656.8 354.5 657.2 352.6 656.8 350.3C656.4 348.0 655.0 344.6 653.8 341.5C652.6 338.4 650.9 334.8 649.7 331.7C648.5 328.6 647.2 325.1 646.7 322.7C646.2 320.2 646.1 318.9 646.5 317.0C646.9 315.1 647.4 313.1 648.8 311.0C650.2 308.9 652.5 305.9 655.1 304.2C657.7 302.5 662.0 301.2 664.5 301.0C667.0 300.8 668.9 302.0 670.4 303.2C671.9 304.4 672.8 306.5 673.5 308.2C674.2 309.9 674.7 312.4 674.9 313.2" stroke-width="5.2" stroke="#5a5a5a"/>
<path d="M533.3 429.5C532.8 427.9 530.8 423.0 530.0 420.0C529.2 417.0 528.8 415.4 528.5 411.6C528.2 407.8 528.1 401.0 528.4 397.2C528.7 393.4 529.2 391.6 530.2 388.8C531.2 386.0 532.4 383.1 534.4 380.6C536.4 378.1 539.7 375.6 542.4 374.0C545.1 372.4 546.5 371.8 550.8 371.2C555.1 370.6 563.1 371.1 568.0 370.4C572.9 369.7 576.0 368.3 580.0 367.0C584.0 365.7 588.7 363.6 592.0 362.4C595.3 361.1 596.2 361.0 600.0 359.5C603.8 358.0 610.4 355.4 614.9 353.4C619.4 351.4 623.6 348.7 627.1 347.7C630.6 346.7 632.9 347.0 636.0 347.5C639.1 348.0 643.3 349.5 646.0 350.7C648.7 351.9 650.3 353.8 652.0 354.5C653.7 355.2 655.2 355.9 656.0 355.2C656.8 354.5 657.2 352.6 656.8 350.3C656.4 348.0 655.0 344.6 653.8 341.5C652.6 338.4 650.9 334.8 649.7 331.7C648.5 328.6 647.2 325.1 646.7 322.7C646.2 320.2 646.1 318.9 646.5 317.0C646.9 315.1 647.4 313.1 648.8 311.0C650.2 308.9 652.5 305.9 655.1 304.2C657.7 302.5 662.0 301.2 664.5 301.0C667.0 300.8 668.9 302.0 670.4 303.2C671.9 304.4 672.8 306.5 673.5 308.2C674.2 309.9 674.7 312.4 674.9 313.2" stroke-width="3.5" stroke="#fff"/>
<path d="M533.1 430.0 L534.1 433.0 L539.8 445.4" stroke-width="0.8"/>
<path d="M536.7 428.9 L537.2 432.0 L542.4 443.4" stroke-width="0.8"/>
<path d="M532.0 430.0 L536.8 428.7 L537.6 432.4 L533.0 433.6Z" stroke-width="0.8"/>
<path d="M539.3 450.9 L543.4 448.1 L548.1 447.8 L550.4 455.0 L548.1 456.6 L543.4 458.6 L541.4 457.6Z" stroke-width="0.9"/>
<path d="M544.2 448.8 L545.0 455.5" stroke-width="0.8"/>
<path d="M541.5 456.0 L544.5 457.5" stroke-width="2.0" stroke="#111"/>
<path d="M547.5 453.0 L549.5 455.5" stroke-width="1.8" stroke="#111"/>
<path d="M545.5 458.6 L550.6 469.0" stroke-width="0.8"/>
<path d="M548.6 457.6 L553.2 468.5" stroke-width="0.8"/>
<path d="M550.1 469.5L554.8 467.8L556.2 473.8L551.6 475.5Z" fill="#1a1a1a" stroke="#111" stroke-width="0.8"/>
<path d="M672.5 313.5 L677.5 312.5 L678.3 318.0 L673.0 319.0Z" stroke-width="0.9"/>
<path d="M667.5 319.5 L677.8 317.5 L678.5 330.0 L669.5 332.5Z" stroke-width="1.0" stroke="#111"/>
<path d="M668.5 321.5L676.8 319.8L677.2 324L669.2 325.8Z" fill="#222" stroke="none"/>
<path d="M672.5 326.5L677.5 325.5L677.8 330L673.5 331Z" fill="#333" stroke="none"/>
<path d="M669.5 332.5 L670.3 335.3 L674.5 334.2 L673.8 331.5" stroke-width="0.8"/>
<path d="M667.9 334.7 L712.0 348.7" stroke-width="0.7"/>
<path d="M716.1 340.5 L730.6 344.6 L730.0 349.2 L734.7 351.0 L732.9 359.7 L726.5 358.5 L725.4 362.0 L709.7 356.8 L712.6 349.2Z" stroke-width="0.7"/>
<path d="M715.5 344.6C716.2 345.4 719.2 347.9 719.6 349.2C720.0 350.5 719.0 351.8 717.8 352.7C716.6 353.6 713.5 354.2 712.6 354.5" stroke-width="0.7"/>
<path d="M668.7 351.0C669.7 350.5 672.6 348.4 674.9 347.9C677.2 347.4 680.5 347.7 682.6 348.2C684.7 348.7 686.4 349.9 687.3 350.8C688.2 351.8 687.7 353.4 687.8 353.9" stroke-width="0.9"/>
<path d="M668.7 351.0C668.6 351.6 668.1 353.6 668.2 354.9C668.3 356.2 668.5 357.9 669.2 359.0C669.9 360.1 671.8 361.2 672.3 361.6" stroke-width="0.9"/>
<path d="M669.7 358.5C670.0 357.9 670.5 355.8 671.3 354.9C672.1 354.0 673.2 353.6 674.4 353.4C675.6 353.2 677.6 353.4 678.5 353.9C679.4 354.4 679.4 355.6 679.5 356.5C679.6 357.4 679.3 358.7 679.0 359.5C678.7 360.3 677.8 360.8 677.5 361.1" stroke-width="1.6" stroke="#111"/>
<path d="M678.5 353.9 L681.1 366.8" stroke-width="0.8"/>
<path d="M683.2 351.3 L684.7 366.8" stroke-width="0.8"/>
<path d="M680.7 352.5 L682.6 366.5" stroke-width="0.5" stroke="#666"/>
<path d="M687.3 357.0 L690.9 357.5 L692.5 363.7 L693.5 376.1 L687.8 377.6" stroke-width="0.8"/>
<path d="M689.5 358.0 L691.0 376.0" stroke-width="0.5" stroke="#666"/>
<path d="M670.3 362.6C670.4 363.2 670.6 364.6 670.8 366.3C671.0 368.0 671.2 371.9 671.3 373.0" stroke-width="0.8"/>
<path d="M671.3 373.0C671.5 372.3 671.4 369.8 672.3 368.8C673.2 367.9 674.8 367.6 676.5 367.3C678.2 367.1 680.7 367.0 682.6 367.3C684.5 367.6 686.7 368.4 687.8 369.4C688.9 370.3 689.1 372.4 689.4 373.0" stroke-width="1.6" stroke="#111"/>
<path d="M689.4 373.0C689.1 373.4 688.9 375.0 687.8 375.5C686.7 376.0 684.8 376.0 682.6 375.8C680.5 375.6 676.8 374.8 674.9 374.3C673.0 373.8 671.9 373.2 671.3 373.0" stroke-width="1.0" stroke="#222"/>
<path d="M681.0 371.5 L685.0 373.0" stroke-width="0.9" stroke="#333"/>
<path d="M637.2 382.5 L642.1 386.6 L637.6 390.2 L632.6 386.6Z" stroke-width="0.8"/>
<path d="M637.3 385V388.5" stroke-width="0.8"/>
<path d="M635.8 390.0 L635.8 443.0" stroke-width="0.8"/>
<path d="M639.4 390.0 L639.4 443.0" stroke-width="0.8"/>
<path d="M635.8 443.0C636.1 443.2 637.0 444.5 637.6 444.5C638.2 444.5 639.1 443.2 639.4 443.0" stroke-width="0.8"/>
<path d="M628.1 407.8L633.6 404.2L641.7 405.1L642.1 418.6L635.4 421.4L627.2 415.9Z" fill="#fff" stroke="#222" stroke-width="0.9"/>
<path d="M628.6 409L641.6 409.8M628.3 412.6L641.8 413.4M628 415.8L641.9 416.8" stroke-width="0.7" stroke="#444"/>
<path d="M635.8 405.0 L635.8 420.8" stroke-width="0.7"/>
<path d="M639.4 405.0 L639.4 419.5" stroke-width="0.7"/>
<path d="M633.6 404.2 L634.6 408.6" stroke-width="0.8"/>
<path d="M400.7 237.5C401.0 237.0 401.2 235.5 402.6 234.7C404.0 233.9 407.9 233.0 409.3 232.8C410.7 232.6 410.9 233.5 411.2 233.7" stroke-width="0.9"/>
<path d="M411.2 233.7 L413.0 240.4 L415.9 243.7 L424.5 243.2 L426.4 244.2 L429.2 259.4 L431.1 280.3" stroke-width="0.9"/>
<path d="M400.7 237.5C401.0 238.6 401.7 242.6 402.6 244.2C403.6 245.8 405.3 245.1 406.4 247.0C407.5 248.9 408.4 252.4 409.3 255.6C410.2 258.8 411.2 262.1 412.1 266.0C413.1 269.9 414.4 274.5 415.0 279.3C415.6 284.1 415.4 290.4 415.5 295.0C415.6 299.6 415.0 303.9 415.5 306.8C416.0 309.7 417.9 310.4 418.4 312.6C418.9 314.9 419.0 317.9 418.4 320.3C417.8 322.7 415.3 325.2 414.5 327.1C413.7 329.0 413.3 330.4 413.5 331.9C413.7 333.3 414.6 334.8 415.5 335.8C416.4 336.8 417.9 338.0 418.9 337.7C419.9 337.4 421.0 335.5 421.3 333.9C421.6 332.3 420.5 330.7 420.8 328.1C421.1 325.5 422.6 321.6 423.2 318.4C423.8 315.2 423.7 312.2 424.2 308.7C424.7 305.1 426.3 301.9 426.1 297.1C425.9 292.3 423.7 282.6 423.2 279.7" stroke-width="0.9"/>
<path d="M410.2 234.7C410.6 236.4 411.5 239.9 412.6 245.1C413.7 250.3 415.5 260.0 416.9 266.0C418.2 272.0 420.1 278.7 420.7 281.2" stroke-width="0.7"/>
<path d="M423.5 243.7 L426.4 259.4 L430.2 279.3" stroke-width="0.6"/>
<circle cx="415.4" cy="253.2" r="3.4" stroke-width="0.8"/>
<circle cx="415.4" cy="253.2" r="1.4" stroke-width="0.7"/>
<circle cx="420.2" cy="274.1" r="3.4" stroke-width="0.8"/>
<circle cx="420.2" cy="274.1" r="1.4" stroke-width="0.7"/>
<circle cx="404" cy="239.9" r="1.3" stroke-width="1.3" stroke="#111"/>
<circle cx="416" cy="331.9" r="1.3" stroke-width="0.9"/>
<path d="M430.4 261.4 L444.2 260.2" stroke-width="0.7" stroke="#555"/>
<path d="M444.2 260.2 L456.8 259.3" stroke-width="1.6" stroke="#111"/>
<path d="M456.8 259.3C458.3 258.8 463.7 256.2 465.8 256.3C467.9 256.4 468.8 259.1 469.4 259.6" stroke-width="0.9"/>
<path d="M469.4 259.6 L478.4 259.9 L481.4 272.8 L479.0 275.8" stroke-width="0.9"/>
<path d="M433.0 263.2 L433.5 279.3" stroke-width="0.7"/>
<path d="M445.4 259.5 L445.6 276.4" stroke-width="1.8" stroke="#111"/>
<path d="M444.0 265.0 L447.0 265.0" stroke-width="1.5" stroke="#111"/>
<path d="M444.2 271.0 L447.2 271.0" stroke-width="1.5" stroke="#111"/>
<path d="M456.8 259.6C457.1 260.0 458.9 260.6 458.6 262.0C458.3 263.4 455.0 266.0 455.0 268.0C455.0 270.0 457.8 272.1 458.6 274.0C459.4 275.9 459.6 278.5 459.8 279.4" stroke-width="1.6" stroke="#111"/>
<path d="M441.2 268.6 L443.0 277.0" stroke-width="0.7"/>
<path d="M441.2 268.6C441.4 268.4 442.0 267.3 442.5 267.2C443.0 267.1 443.9 267.9 444.2 268.0" stroke-width="0.7"/>
<circle cx="465.2" cy="272.2" r="1.9" stroke-width="1.4" stroke="#111"/>
<path d="M461.0 265.6 L467.0 264.4" stroke-width="0.7" stroke="#555"/>
<path d="M469.4 259.6 L472.4 275.2" stroke-width="0.8"/>
<path d="M476.6 260.2 L480.2 275.2" stroke-width="0.8"/>
<path d="M465.8 277.6 L471.8 277.0" stroke-width="2.0" stroke="#111"/>
<path d="M461.0 279.4 L479.0 275.2" stroke-width="0.8"/>
<path d="M433.0 282.0 L446.0 281.8 L455.0 282.4" stroke-width="0.8"/>
<path d="M429.5 282.0 L437.5 281.8" stroke-width="2.6" stroke="#1a1a1a"/>
<path d="M440.3 281.8 L443.0 281.8" stroke-width="2.6" stroke="#1a1a1a"/>
<path d="M455.0 282.4 L460.4 278.8" stroke-width="2.0" stroke="#111"/>
<path d="M428.6 257.2 L429.0 264.4" stroke-width="1.5" stroke="#222"/>
<path d="M424.7 282.1 L429.5 282.0" stroke-width="0.8"/>
<path d="M445.5 281.6C446.3 283.7 447.6 289.7 450.3 294.2C453.0 298.7 459.6 306.0 461.9 308.7C464.2 311.4 463.6 310.3 463.9 310.6" stroke-width="0.9"/>
<path d="M448.4 279.7C449.0 281.3 450.1 285.7 452.3 289.4C454.6 293.1 460.3 299.8 461.9 301.9" stroke-width="0.7"/>
<path d="M452.3 279.7C452.9 280.8 454.7 283.9 456.0 286.0C457.3 288.1 458.9 290.9 460.0 292.3C461.1 293.7 462.4 293.9 462.9 294.2" stroke-width="0.8"/>
<path d="M461.0 295.0 L474.5 293.7 L477.4 305.8 L473.5 307.7" stroke-width="0.9"/>
<path d="M461.0 295.0 L463.5 310.6 L471.6 310.6 L473.5 307.7" stroke-width="0.9"/>
<path d="M466.8 295.0 L468.0 309.0" stroke-width="0.7"/>
<path d="M471.6 294.0 L473.0 308.0" stroke-width="0.7"/>
<path d="M465.0 308.5 L470.5 308.2" stroke-width="1.6" stroke="#111"/>
<circle cx="452.3" cy="326.5" r="4.3" stroke-width="1.1" stroke="#111"/>
<circle cx="452.3" cy="326.5" r="2.4" stroke-width="0.9"/>
<path d="M436.8 325.0 L448.0 324.3 L448.4 329.3 L437.0 330.2Z" stroke-width="0.9"/>
<path d="M439 325V330M441 324.8V329.9M443 324.6V329.7M445 324.5V329.5" stroke-width="0.9" stroke="#333"/>
<path d="M510.7 265.0 L525.3 264.8 L523.0 277.6 L510.5 277.0Z" stroke-width="0.8"/>
<path d="M510.7 267.4 L522.5 267.4" stroke-width="1.5" stroke="#111"/>
<path d="M516.5 268.0 L516.0 277.2" stroke-width="0.6"/>
<path d="M523.1 266.6 L540.7 266.6 L541.5 276.0 L523.5 276.0Z" stroke-width="0.8"/>
<path d="M523.5 270.0 L540.7 270.0" stroke-width="0.6" stroke="#666"/>
<path d="M523.0 275.4 L542.5 275.4" stroke-width="1.5" stroke="#111"/>
<path d="M525.3 277.5 L542.9 277.5 L542.9 280.9 L525.3 280.9Z" stroke-width="0.7"/>
<path d="M521.0 277.2 L525.9 277.0" stroke-width="2.0" stroke="#111"/>
<path d="M528.2 265.7 L530.8 265.7" stroke-width="1.6" stroke="#111"/>
<path d="M362.3 293.2 L372.4 291.8 L373.4 301.5 L363.2 302.4Z" stroke-width="0.8"/>
<path d="M366.5 293L367 302M369.3 292.6L369.8 301.8" stroke-width="0.6"/>
<path d="M363.7 303.0 L377.5 302.5" stroke-width="1.5" stroke="#111"/>
<path d="M364.5 306.0 L377.5 305.5" stroke-width="1.1" stroke="#222"/>
<path d="M366.0 309.5 L377.6 309.0" stroke-width="1.1" stroke="#222"/>
<path d="M377.3 302.5 L377.8 319.5" stroke-width="1.0" stroke="#111"/>
<path d="M373.5 304.0 L375.5 318.0" stroke-width="1.8" stroke="#222"/>
<path d="M369.0 314.0 L377.5 313.0" stroke-width="1.0" stroke="#222"/>
<path d="M354.6 296.2C355.2 297.2 356.8 300.2 358.0 302.5C359.2 304.8 360.7 307.6 362.0 310.0C363.3 312.4 364.5 316.1 365.7 316.8C366.9 317.6 367.9 315.4 369.0 314.5C370.1 313.6 371.8 312.0 372.4 311.5" stroke-width="3.3" stroke="#333"/>
<path d="M354.6 296.2C355.2 297.2 356.8 300.2 358.0 302.5C359.2 304.8 360.7 307.6 362.0 310.0C363.3 312.4 364.5 316.1 365.7 316.8C366.9 317.6 367.9 315.4 369.0 314.5C370.1 313.6 371.8 312.0 372.4 311.5" stroke-width="1.6" stroke="#fff"/>
<path d="M367.5 321.5C368.1 322.2 369.9 324.4 371.0 326.0C372.1 327.6 373.5 330.2 374.0 331.0" stroke-width="3.3" stroke="#333"/>
<path d="M367.5 321.5C368.1 322.2 369.9 324.4 371.0 326.0C372.1 327.6 373.5 330.2 374.0 331.0" stroke-width="1.6" stroke="#fff"/>
<g transform="translate(365.7,320.3) rotate(136.7)">
<path d="M0.0 -4.0 L3.0 -4.0 L3.0 4.0 L0.0 4.0Z" stroke-width="0.8"/>
<path d="M3.0 -3.0 L25.0 -3.0" stroke-width="0.8"/>
<path d="M3.0 3.0 L25.0 3.0" stroke-width="0.8"/>
<path d="M11 -3V3M13 -3V3" stroke-width="0.9" stroke="#333"/>
<path d="M25.0 -4.8 L34.0 -4.8 L34.0 4.8 L25.0 4.8Z" stroke-width="0.8"/>
<path d="M26.5 -4.8V4.8M28.6 -4.8V4.8" stroke-width="1.3" stroke="#111"/>
<path d="M34.0 -3.4 L39.0 -3.4 L39.0 3.4 L34.0 3.4Z" stroke-width="0.8"/>
<path d="M36.5 -3.4V3.4" stroke-width="0.6"/>
<path d="M39.0 -2.6C39.9 -2.6 43.3 -3.0 44.5 -2.6C45.7 -2.2 46.0 -0.9 46.0 0.0C46.0 0.9 45.7 2.2 44.5 2.6C43.3 3.0 39.9 2.6 39.0 2.6" stroke-width="0.8"/>
</g>
<path d="M356.8 354.7 L364.0 352.3 L373.2 352.8 L373.2 363.5 L358.0 365.3Z" stroke-width="0.8"/>
<path d="M360 354.5L361 364.5M365 353L365.2 364M369 353L369.3 363.7" stroke-width="0.6"/>
<path d="M358.0 365.3 L373.2 363.5" stroke-width="1.3" stroke="#111"/>
<path d="M362.6 367.3C362.1 368.8 360.0 373.2 359.7 376.0C359.4 378.8 360.4 381.4 361.0 384.0C361.6 386.6 363.2 390.2 363.6 391.5" stroke-width="0.7"/>
<path d="M374.2 364.4C375.0 366.0 378.4 370.4 379.0 374.0C379.6 377.6 378.2 383.8 378.1 385.7" stroke-width="0.7"/>
<path d="M367.4 374.0C367.6 373.5 367.8 371.8 368.4 371.1C369.0 370.4 370.3 370.0 371.3 370.0C372.3 370.0 373.5 370.4 374.2 371.1C374.9 371.8 375.4 373.5 375.7 374.0" stroke-width="1.6" stroke="#111"/>
<path d="M367.4 374.0 L367.4 393.4" stroke-width="0.8"/>
<path d="M375.7 374.0 L375.7 393.4" stroke-width="0.8"/>
<path d="M364.5 394.4 L377.1 394.4 L377.1 401.2 L364.5 401.2Z" stroke-width="0.8"/>
<path d="M364.8 397.8 L376.8 397.8" stroke-width="1.8" stroke="#111"/>
<path d="M367.4 401.2 L367.4 411.5" stroke-width="0.8"/>
<path d="M373.7 401.2 L373.7 411.5" stroke-width="0.8"/>
<ellipse cx="370.5" cy="411.8" rx="3.1" ry="1.3" stroke-width="0.8"/>
<path d="M330.0 353.0 L308.0 368.0 L350.0 393.0 L319.5 413.5" stroke-width="0.7"/>
<path d="M401.7 372.7Q402.0 369.5 405.2 369.0L423.3 366.5Q426.5 366.0 426.2 369.2L422.8 410.3Q422.5 413.5 419.3 413.8L400.7 415.2Q397.5 415.5 397.8 412.3Z" stroke-width="0.8"/>
<ellipse cx="413.3" cy="379.2" rx="3.9" ry="3.4" transform="rotate(-30 413.3 379.2)" stroke-width="0.8"/>
<path d="M407.6 401.5Q407.5 399.5 409.5 399.3L411.5 399.2Q413.5 399.0 413.7 401.0L413.8 403.5Q414.0 405.5 412.0 405.8L410.0 406.2Q408.0 406.5 407.9 404.5Z" stroke-width="0.8"/>
<path d="M413.5 404.5 L425.0 411.0" stroke-width="0.7"/>
<path d="M427.2 399.0 L488.7 382.5" stroke-width="0.9"/>
<path d="M427.5 401.5 L489.0 385.0" stroke-width="0.7"/>
<path d="M427.8 403.6 L488.0 387.0" stroke-width="0.6"/>
<path d="M488.7 382.5 L489.5 385.5" stroke-width="0.9"/>
<path d="M427.2 399.0 L425.0 432.0 L426.5 433.5" stroke-width="0.9"/>
<path d="M425.8 428.0 L473.0 412.0" stroke-width="0.8"/>
<path d="M426.5 433.5 L473.0 416.0" stroke-width="0.9"/>
<path d="M426.0 430.8 L473.0 414.0" stroke-width="0.5" stroke="#666"/>
<path d="M473.0 416.0 L473.0 411.7 L480.5 408.0 L486.5 409.5 L500.0 424.5 L506.0 439.5 L524.0 423.0 L489.5 385.5" stroke-width="0.9"/>
<path d="M488.0 386.0 L479.0 408.0" stroke-width="0.7"/>
<path d="M506.0 439.5 L505.0 437.0 L522.5 421.5" stroke-width="0.6"/>
<path d="M454.2 400.0C455.8 400.0 457.9 400.4 459.0 401.5C460.1 402.6 460.8 404.8 460.8 406.5C460.8 408.2 460.1 410.4 459.0 411.5C457.9 412.6 455.8 413.0 454.2 413.0C452.6 413.0 450.6 412.6 449.5 411.5C448.4 410.4 447.6 408.2 447.6 406.5C447.6 404.8 448.4 402.6 449.5 401.5C450.6 400.4 452.6 400.0 454.2 400.0Z" stroke-width="0.9"/>
<circle cx="436" cy="405.7" r="2.2" stroke-width="0.8"/>
<circle cx="434.7" cy="417.7" r="1.8" stroke-width="0.8"/>
<ellipse cx="497.7" cy="407" rx="1.9" ry="3.1" transform="rotate(-20 497.7 407)" stroke-width="0.8"/>
<ellipse cx="503.7" cy="414" rx="2.2" ry="3.6" transform="rotate(-20 503.7 414)" stroke-width="0.9"/>
<ellipse cx="510.5" cy="420.7" rx="2" ry="3.4" transform="rotate(-20 510.5 420.7)" stroke-width="0.9"/>
<circle cx="517" cy="423" r="1.3" stroke-width="0.8"/>
<circle cx="509" cy="429.7" r="1.3" stroke-width="0.8"/>
<path d="M434.7 417.7 L458.0 428.5" stroke-width="0.7"/>
<ellipse cx="456.8" cy="430.6" rx="1.3" ry="3" transform="rotate(-25 456.8 430.6)" stroke-width="0.8"/>
<path d="M457.0 427.6 L466.5 430.8" stroke-width="0.8"/>
<path d="M456.8 433.6 L463.6 438.5" stroke-width="0.8"/>
<path d="M459.5 428.4L459 434.8M462 429.2L461.2 436.3M464.3 430L463.6 437.6" stroke-width="0.9" stroke="#333"/>
<path d="M463.6 438.5C463.8 439.6 463.8 443.8 464.5 445.3C465.2 446.8 466.5 446.6 468.1 447.6C469.8 448.6 473.3 450.6 474.4 451.2" stroke-width="0.8"/>
<path d="M466.5 430.8C467.0 430.7 468.1 430.5 469.4 430.4C470.7 430.3 472.7 429.8 474.4 430.2C476.1 430.6 478.6 432.6 479.4 433.1" stroke-width="0.8"/>
<ellipse cx="477.8" cy="442.6" rx="8.1" ry="8.5" stroke-width="1.0" stroke="#333"/>
<path d="M473.5 435.2C473.0 435.8 471.1 437.6 470.5 439.0C469.9 440.4 469.6 441.9 469.8 443.5C470.0 445.1 470.5 447.2 471.5 448.5C472.5 449.8 475.2 450.7 476.0 451.1" stroke-width="1.7" stroke="#111"/>
<path d="M484.5 438.0C484.8 438.8 486.0 441.3 486.0 443.0C486.0 444.7 484.8 447.2 484.5 448.0" stroke-width="1.3" stroke="#222"/>
<ellipse cx="478.4" cy="442.4" rx="5.6" ry="6.1" stroke-width="0.7" stroke="#555"/>
<path d="M476 438.5L479.5 441.5L476.5 445M477 447L478.5 448.5" stroke-width="0.8"/>
</g>
</svg>
</body></html>
